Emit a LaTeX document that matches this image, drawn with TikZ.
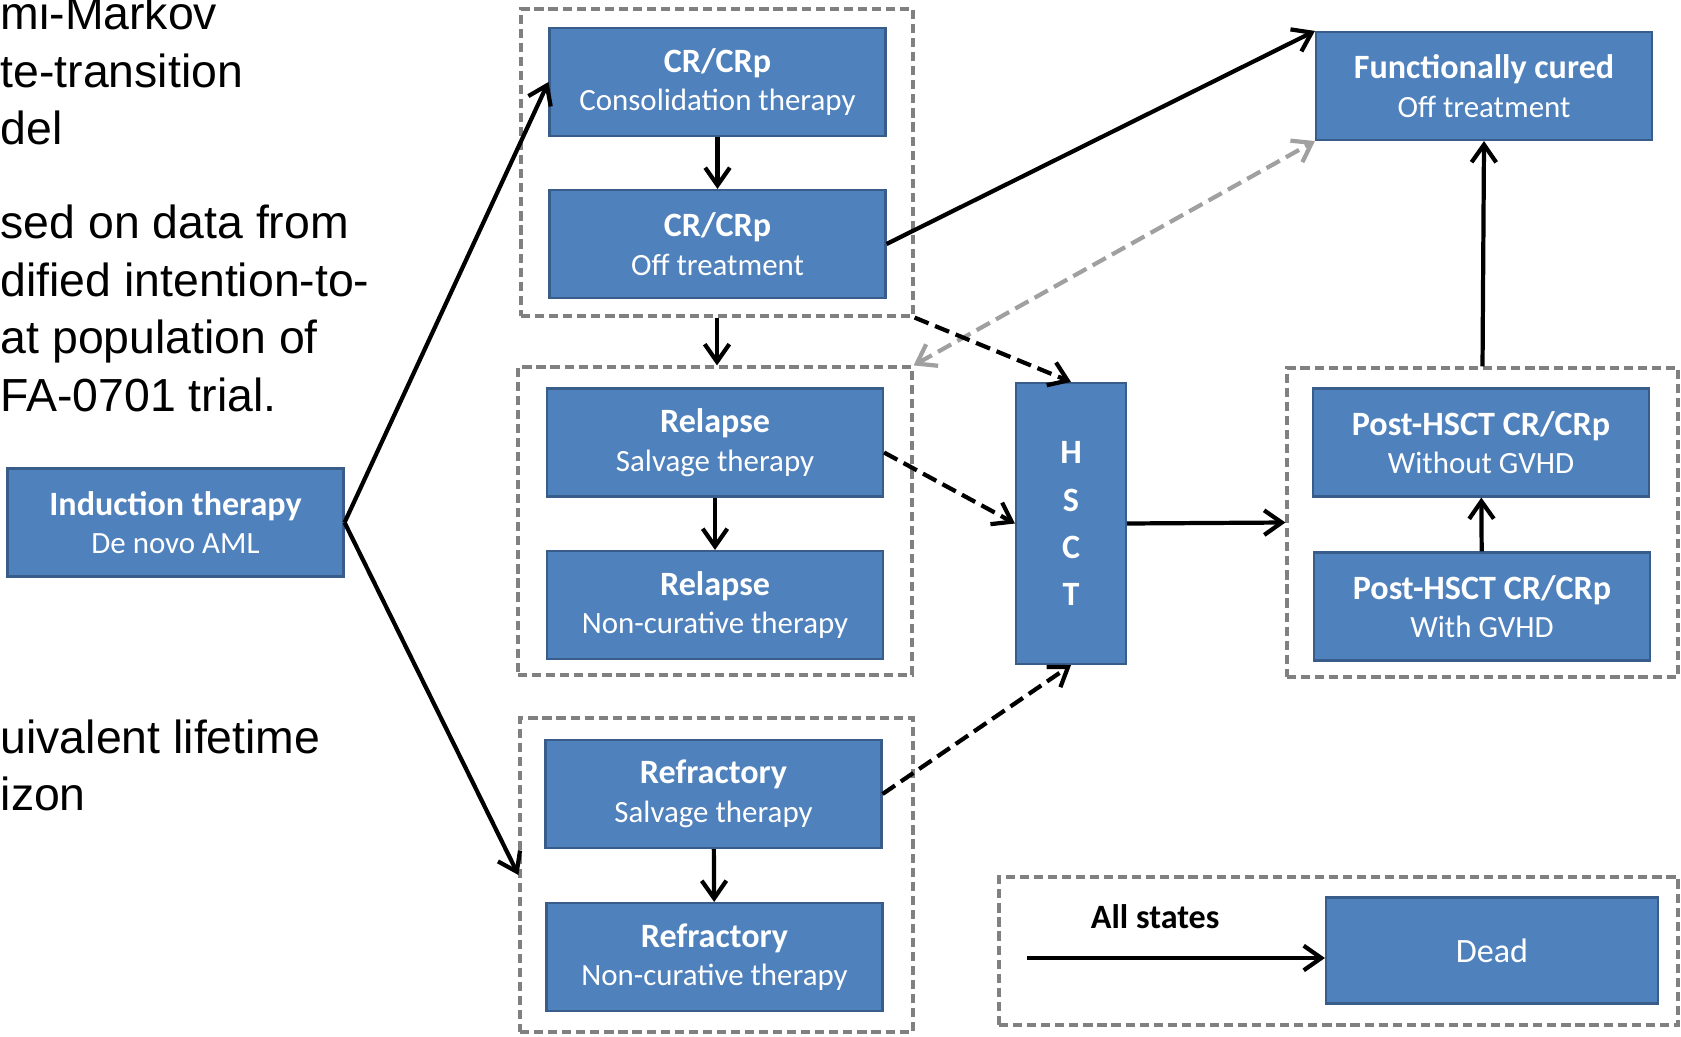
\documentclass[tikz,border=0pt]{standalone}
\usepackage{fontspec}
\setmainfont{Carlito}
\newfontfamily\arialfont{Liberation Sans}
\usetikzlibrary{arrows.meta}
\definecolor{boxblue}{HTML}{4F81BD}
\definecolor{boxedge}{HTML}{385D8A}
\definecolor{grpgray}{HTML}{808080}
\definecolor{revgray}{HTML}{A0A0A0}
\begin{document}
\begin{tikzpicture}[x=1cm,y=-1cm,>={Straight Barb[length=5pt,width=7pt]},
    stbox/.style={draw=boxedge,line width=0.6pt,fill=boxblue,text=white,
        minimum width=3.36cm,minimum height=1.08cm,inner sep=0pt,align=center,
        font=\fontsize{8.8pt}{11pt}\selectfont},
    grpbox/.style={draw=grpgray,line width=0.9pt,dash pattern=on 2.6pt off 1.4pt,inner sep=0pt},
    trans/.style={->,line width=1.2pt},
    htrans/.style={trans,dash pattern=on 4.3pt off 2pt}]
            \def\ttl#1{{\fontsize{9.7pt}{11pt}\selectfont\bfseries #1}}
            \useasboundingbox (0,0) rectangle (16.81,10.37);
            %\draw[gray!50] (0,0) grid (16,10);
            \foreach \txt/\yy [count=\i] in {mi-Markov/0.30,te-transition/0.875,del/1.45,
                sed on data from/2.39,dified intention-to-/2.965,at population of/3.54,
                FA-0701 trial./4.11,uivalent lifetime/7.53,izon/8.10}
            \node[font=\arialfont\fontsize{13.2pt}{16pt}\selectfont,anchor=base west,
                inner sep=0pt] (side\i) at (0,\yy) {\txt};
            % khung nhom
            \node[grpbox,minimum width=3.92cm,minimum height=3.07cm] (grpcr) at (7.17,1.625) {};
            \node[grpbox,minimum width=3.94cm,minimum height=3.08cm] (grprel) at (7.15,5.21) {};
            \node[grpbox,minimum width=3.93cm,minimum height=3.14cm] (grpref) at (7.165,8.75) {};
            \node[grpbox,minimum width=3.91cm,minimum height=3.09cm] (grppost) at (14.825,5.225) {};
            \node[grpbox,minimum width=6.79cm,minimum height=1.48cm] (grpdead) at (13.385,9.51) {};
            % trang thai
            \node[stbox] (induct) at (1.755,5.225) {\ttl{Induction therapy}\\De novo AML};
            \node[stbox] (consol) at (7.175,0.82) {\ttl{CR/CRp}\\Consolidation therapy};
            \node[stbox] (croff) at (7.175,2.44) {\ttl{CR/CRp}\\Off treatment};
            \node[stbox] (relsalv) at (7.15,4.425) {\ttl{Relapse}\\Salvage therapy};
            \node[stbox] (relnc) at (7.15,6.05) {\ttl{Relapse}\\Non-curative therapy};
            \node[stbox] (refsalv) at (7.135,7.94) {\ttl{Refractory}\\Salvage therapy};
            \node[stbox] (refnc) at (7.145,9.57) {\ttl{Refractory}\\Non-curative therapy};
            \node[stbox,minimum width=1.10cm,minimum height=2.81cm,
                font=\fontsize{9.7pt}{13.4pt}\selectfont\bfseries] (hsct) at (10.71,5.235) {H\\S\\C\\T};
            \node[stbox] (cured) at (14.84,0.86) {\ttl{Functionally cured}\\Off treatment};
            \node[stbox] (postno) at (14.81,4.425) {\ttl{Post-HSCT CR/CRp}\\Without GVHD};
            \node[stbox] (postgv) at (14.82,6.065) {\ttl{Post-HSCT CR/CRp}\\With GVHD};
            \node[stbox,minimum width=3.32cm,minimum height=1.06cm,
                font=\fontsize{9.7pt}{11pt}\selectfont] (dead) at (14.92,9.505) {Dead};
            % chuyen trang thai
            \draw[trans] (induct.east) -- (consol.west);
            \draw[trans] (induct.east) -- (grpref.west);
            \draw[trans] (consol) -- (croff);
            \draw[trans] (grpcr.south) -- (grpcr.south |- grprel.north);
            \draw[trans] (relsalv) -- (relnc);
            \draw[trans] (refsalv) -- (refnc);
            \draw[trans] (croff.east) -- (cured.north west);
            \draw[htrans,<->,revgray] (grprel.north east) -- (cured.south west);
            \draw[htrans] (grpcr.south east) -- (hsct.north);
            \draw[htrans] ([yshift=-0.1cm]relsalv.east) -- (hsct.west);
            \draw[htrans] (refsalv.east) -- (hsct.south);
            \draw[trans] (hsct.east) -- (grppost.west);
            \draw[trans] (postgv) -- (postno);
            \draw[trans] (grppost.north) -- (cured.south);
            \coordinate (allst) at (10.27,9.58);
            \draw[trans] (allst) -- (allst -| dead.west)
            node[pos=0.43,above=0.15cm,font=\fontsize{9.7pt}{11pt}\selectfont\bfseries] (allsttxt) {All states};
        \end{tikzpicture}
\end{document}
